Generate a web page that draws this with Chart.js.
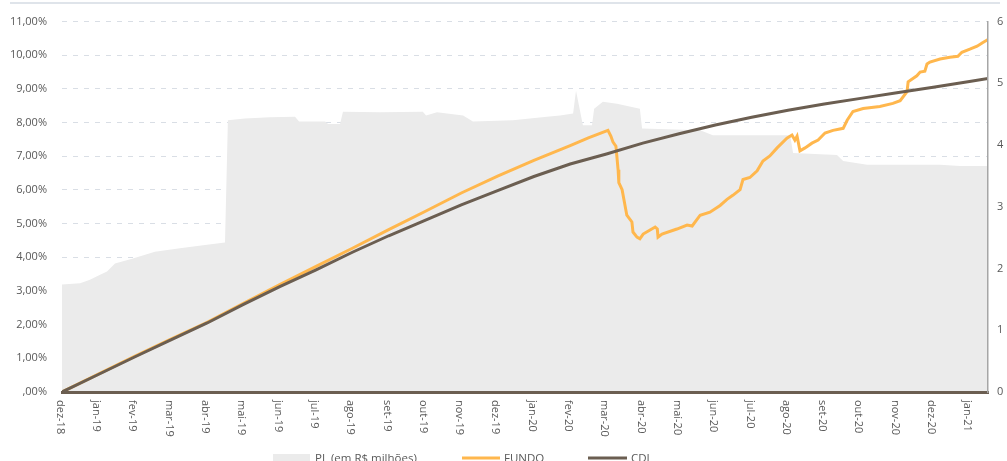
<!DOCTYPE html>
<html>
<head>
<meta charset="utf-8">
<script src="https://cdn.jsdelivr.net/npm/chart.js@4.4.1/dist/chart.umd.min.js"></script>
<style>
  html, body { margin: 0; padding: 0; background: #fff; overflow: hidden; }
  #wrap { position: relative; width: 1007px; height: 461px; }
</style>
</head>
<body>
<div id="wrap"><canvas id="chart" width="1007" height="461"></canvas></div>
<script>
// month ticks (x = months since dez-18)
const monthLabels = [
    "dez-18", "jan-19", "fev-19", "mar-19", "abr-19", "mai-19", "jun-19",
    "jul-19", "ago-19", "set-19", "out-19", "nov-19", "dez-19", "jan-20",
    "fev-20", "mar-20", "abr-20", "mai-20", "jun-20", "jul-20", "ago-20",
    "set-20", "out-20", "nov-20", "dez-20", "jan-21",
];
const pctTicks = [",00%", "1,00%", "2,00%", "3,00%", "4,00%", "5,00%",
    "6,00%", "7,00%", "8,00%", "9,00%", "10,00%", "11,00%"];
const plTicks = ["0", "1", "2", "3", "4", "5", "6"];
const xEnd = 25.51;

// PL (em R$ milhões), right axis
const pl = [
    [0, 1.74], [0.5, 1.76], [0.77, 1.82], [1.05, 1.9], [1.24, 1.95], [1.46, 2.08],
    [1.93, 2.16], [2.56, 2.27], [3.25, 2.33], [3.94, 2.38], [4.49, 2.42], [4.57, 4.4],
    [5.04, 4.43], [5.73, 4.45], [6.42, 4.46], [6.53, 4.38], [7.25, 4.38], [7.33, 4.34],
    [7.66, 4.34], [7.74, 4.54], [8.76, 4.53], [9.94, 4.54], [10.03, 4.48], [10.33, 4.53],
    [11.05, 4.48], [11.32, 4.38], [12.42, 4.4], [13.36, 4.46], [13.72, 4.48], [14.08, 4.51],
    [14.16, 4.88], [14.35, 4.32], [14.6, 4.32], [14.66, 4.59], [14.9, 4.7], [15.29, 4.67],
    [15.92, 4.59], [15.98, 4.27], [17.58, 4.24], [17.93, 4.16], [20.06, 4.16], [20.14, 3.87],
    [21.35, 3.84], [21.52, 3.74], [22.18, 3.68], [24.19, 3.68], [24.74, 3.66], [25.51, 3.66],
];

// FUNDO, cumulative %
const fundo = [
    [0, 0], [1, 0.53], [2, 1.06], [3, 1.57], [4, 2.07], [5, 2.63], [6, 3.19], [7, 3.73],
    [8, 4.27], [9, 4.82], [10, 5.36], [11, 5.91], [12, 6.41], [13, 6.88], [14, 7.32],
    [14.5, 7.55], [15.04, 7.77], [15.12, 7.6], [15.18, 7.42], [15.26, 7.3], [15.32, 6.6],
    [15.34, 6.22], [15.43, 6.01], [15.56, 5.25], [15.7, 5.05], [15.73, 4.75], [15.84, 4.6],
    [15.92, 4.55], [16.01, 4.69], [16.2, 4.81], [16.34, 4.9], [16.4, 4.84], [16.42, 4.6],
    [16.53, 4.69], [16.94, 4.84], [17.22, 4.96], [17.36, 4.93], [17.58, 5.25], [17.85, 5.34],
    [18.13, 5.54], [18.32, 5.72], [18.48, 5.84], [18.68, 6.01], [18.76, 6.31], [18.95, 6.37],
    [19.15, 6.57], [19.31, 6.86], [19.5, 7.01], [19.7, 7.25], [19.97, 7.54], [20.11, 7.63],
    [20.19, 7.48], [20.25, 7.6], [20.33, 7.16], [20.47, 7.25], [20.66, 7.39], [20.83, 7.48],
    [21.02, 7.69], [21.24, 7.77], [21.52, 7.83], [21.63, 8.07], [21.79, 8.33], [22.07, 8.42],
    [22.53, 8.48], [22.89, 8.57], [23.09, 8.65], [23.28, 8.92], [23.31, 9.21], [23.55, 9.39],
    [23.64, 9.5], [23.77, 9.53], [23.83, 9.74], [23.91, 9.8], [24.19, 9.89], [24.46, 9.94],
    [24.68, 9.97], [24.79, 10.09], [25.01, 10.18], [25.21, 10.27], [25.37, 10.38], [25.51, 10.47],
];

// CDI, cumulative %
const cdi = [
    [0, 0], [1, 0.52], [2, 1.04], [3, 1.55], [4, 2.05], [5, 2.6], [6, 3.13], [7, 3.63],
    [8, 4.15], [9, 4.64], [10, 5.1], [11, 5.56], [12, 5.98], [13, 6.4], [14, 6.77],
    [15, 7.07], [16, 7.39], [17, 7.67], [18, 7.93], [19, 8.16], [20, 8.37], [21, 8.55],
    [22, 8.72], [23, 8.89], [24, 9.05], [25, 9.22], [25.51, 9.31],
];

const toPoints = (arr) => arr.map(([x, y]) => ({ x, y }));

const textColor = "#595959";
const tickFont = { family: "Open Sans", size: 11 };

// month labels read top-to-bottom, top line and the legend row
const decor = {
    id: "decor",
    beforeDraw(chart) {
        const ctx = chart.ctx;
        ctx.save();
        ctx.fillStyle = "#dfe4ea";
        ctx.fillRect(10, 2, 990, 2);
        ctx.restore();
    },
    afterDraw(chart) {
        const ctx = chart.ctx;
        const xs = chart.scales.x;
        ctx.save();
        ctx.fillStyle = textColor;
        ctx.font = "11px 'Open Sans'";
        ctx.textAlign = "left";
        ctx.textBaseline = "middle";
        monthLabels.forEach((lab, i) => {
            const px = xs.getPixelForValue(i);
            ctx.save();
            ctx.translate(px - 2, 400);
            ctx.rotate(Math.PI / 2);
            ctx.fillText(lab, 0, 0);
            ctx.restore();
        });

        // legend
        const ly = 459;
        ctx.font = "11.5px 'Open Sans'";
        ctx.fillStyle = "#ebebeb";
        ctx.fillRect(273, 454, 37, 9);
        ctx.fillStyle = textColor;
        ctx.fillText("PL (em R$ milhões)", 315, ly);

        ctx.lineWidth = 3;
        ctx.strokeStyle = "#ffb74d";
        ctx.beginPath();
        ctx.moveTo(462, 458);
        ctx.lineTo(500, 458);
        ctx.stroke();
        ctx.fillText("FUNDO", 504, ly);

        ctx.strokeStyle = "#6b5e51";
        ctx.beginPath();
        ctx.moveTo(588, 458);
        ctx.lineTo(627, 458);
        ctx.stroke();
        ctx.fillText("CDI", 631, ly);
        ctx.restore();
    },
};

new Chart(document.getElementById("chart"), {
    type: "line",
    data: {
        datasets: [
            {
                label: "CDI",
                data: toPoints(cdi),
                yAxisID: "y",
                borderColor: "#6b5e51",
                borderWidth: 3,
                pointRadius: 0,
                tension: 0,
                fill: false,
            },
            {
                label: "FUNDO",
                data: toPoints(fundo),
                yAxisID: "y",
                borderColor: "#ffb74d",
                borderWidth: 3,
                pointRadius: 0,
                tension: 0,
                fill: false,
            },
            {
                label: "PL (em R$ milhões)",
                data: toPoints(pl),
                yAxisID: "y1",
                borderColor: "rgba(0,0,0,0)",
                borderWidth: 0,
                backgroundColor: "#ebebeb",
                pointRadius: 0,
                tension: 0,
                fill: "origin",
            },
        ],
    },
    options: {
        responsive: false,
        animation: false,
        devicePixelRatio: 1,
        layout: { padding: { top: 17, left: 0, right: 0, bottom: 0 } },
        plugins: {
            legend: { display: false },
            tooltip: { enabled: false },
        },
        scales: {
            x: {
                type: "linear",
                min: 0,
                max: xEnd,
                afterBuildTicks: (s) => {
                    s.ticks = monthLabels.map((_, i) => ({ value: i }));
                },
                afterFit: (s) => { s.height = 69; },
                ticks: { display: false },
                grid: { display: false },
                border: { display: true, color: "#6b5e51", width: 3, z: 1 },
            },
            y: {
                position: "left",
                min: 0,
                max: 11,
                afterFit: (s) => { s.width = 62; },
                ticks: {
                    stepSize: 1,
                    padding: 15,
                    color: textColor,
                    font: tickFont,
                    callback: (v, i) => pctTicks[i],
                },
                grid: { color: "#d9dee5", lineWidth: 1, drawTicks: false },
                border: { display: false, dash: [5, 6] },
            },
            y1: {
                position: "right",
                min: 0,
                max: 6,
                afterFit: (s) => { s.width = 19; },
                ticks: {
                    stepSize: 1,
                    padding: 9,
                    color: textColor,
                    font: tickFont,
                    callback: (v, i) => plTicks[i],
                },
                grid: { display: false, drawTicks: false },
                border: { display: true, color: "#a6a6a6", width: 1.5, z: 1 },
            },
        },
    },
    plugins: [decor],
});
</script>
</body>
</html>
